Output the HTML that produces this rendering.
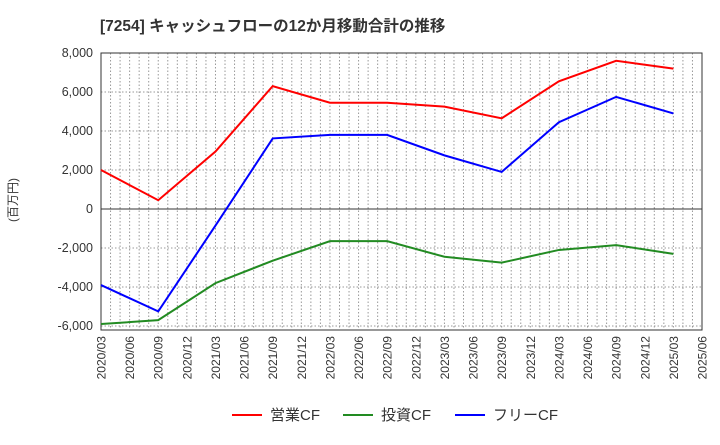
<!DOCTYPE html>
<html><head><meta charset="utf-8"><style>
body{margin:0;background:#fff;font-family:"Liberation Sans","Noto Sans CJK JP",sans-serif}
</style></head><body>
<svg width="720" height="440" xmlns="http://www.w3.org/2000/svg" font-family="Liberation Sans, Noto Sans CJK JP, sans-serif">
<text x="100" y="31" font-size="15.5" font-weight="bold" fill="#333">[7254]  キャッシュフローの12か月移動合計の推移</text>
<text transform="translate(17,200) rotate(-90)" font-size="12" fill="#333" text-anchor="middle">(百万円)</text>
<g id="grid"></g><g id="axes"></g><g id="series"></g>
<g font-size="15" fill="#333">
<line x1="232" y1="415" x2="262" y2="415" stroke="#f00" stroke-width="2"/><text x="270" y="420">営業CF</text>
<line x1="343" y1="415" x2="373" y2="415" stroke="#228B22" stroke-width="2"/><text x="381" y="420">投資CF</text>
<line x1="455" y1="415" x2="485" y2="415" stroke="#00f" stroke-width="2"/><text x="493" y="420">フリーCF</text>
</g>
</svg>
<script>
const categories=["2020/03","2020/09","2021/03","2021/09","2022/03","2022/09","2023/03","2023/09","2024/03","2024/09","2025/03"];
const operatingCF=[2000,450,2950,6300,5450,5450,5250,4650,6550,7600,7200];
const investingCF=[-5900,-5700,-3800,-2650,-1650,-1650,-2450,-2750,-2100,-1850,-2300];
const freeCF=[-3900,-5250,-850,3620,3800,3800,2750,1900,4450,5750,4900];
const xTickLabels=["2020/03","2020/06","2020/09","2020/12","2021/03","2021/06","2021/09","2021/12","2022/03","2022/06","2022/09","2022/12","2023/03","2023/06","2023/09","2023/12","2024/03","2024/06","2024/09","2024/12","2025/03","2025/06"];
const yTicks=[8000,6000,4000,2000,0,-2000,-4000,-6000];
const NS="http://www.w3.org/2000/svg";
const L=101,R=702,T=53,B=330;
const mIdx=s=>{const[a,b]=s.split("/").map(Number);return (a-2020)*12+(b-3);};
const X=s=>L+mIdx(s)*(R-L)/63;
const Y=v=>209-v*(156/8000);
function mk(p,t,a){const e=document.createElementNS(NS,t);for(const k in a)e.setAttribute(k,a[k]);p.appendChild(e);return e;}
const grid=document.getElementById("grid"),axes=document.getElementById("axes"),ser=document.getElementById("series");
for(let m=1;m<63;m++){const l=mk(grid,"line",{x1:L+m*(R-L)/63,x2:L+m*(R-L)/63,y1:T,y2:B,stroke:"#999","stroke-dasharray":"1.5,2","stroke-width":1});

}
yTicks.forEach(v=>{const l=mk(grid,"line",{x1:L,x2:R,y1:Y(v),y2:Y(v),stroke:v===0?"#333":"#999","stroke-dasharray":v===0?"":"1.5,2","stroke-width":1});


const t=mk(axes,"text",{x:L-8,y:Y(v)+4,"text-anchor":"end","font-size":12.5,fill:"#333"});t.textContent=v.toLocaleString("en-US");

});
const fr=mk(axes,"rect",{x:L,y:T,width:R-L,height:B-T,fill:"none",stroke:"#333","stroke-width":1});


xTickLabels.forEach(s=>{const x=X(s);const t=mk(axes,"text",{transform:`translate(${x+4.5},${B+6}) rotate(-90)`,"text-anchor":"end","font-size":12,fill:"#333"});t.textContent=s;

});
[[operatingCF,"#f00","operating-cf-line"],[investingCF,"#228B22","investing-cf-line"],[freeCF,"#00f","free-cf-line"]].forEach(([d,c,n])=>{
const p=mk(ser,"polyline",{points:d.map((v,i)=>X(categories[i])+","+Y(v)).join(" "),fill:"none",stroke:c,"stroke-width":2});

});
</script>
</body></html>
